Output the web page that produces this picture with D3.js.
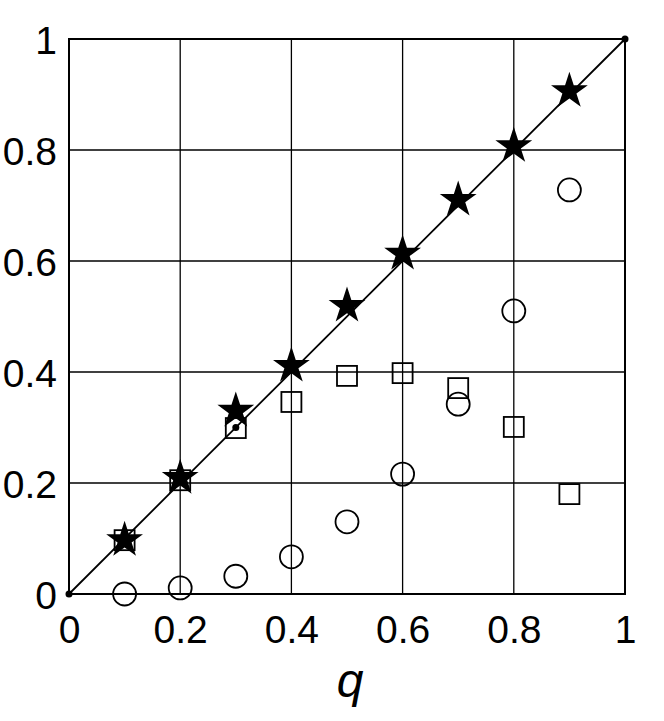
<!DOCTYPE html>
<html>
<head>
<meta charset="utf-8">
<script src="https://cdn.jsdelivr.net/npm/d3@7"></script>
<style>
body { margin: 0; background: #fff; }
svg text { font-family: "Liberation Sans", Arial, sans-serif; fill: #000; }
</style>
</head>
<body>
<svg id="chart" width="664" height="721"></svg>
<script>
// data
var qs = [0.1, 0.2, 0.3, 0.4, 0.5, 0.6, 0.7, 0.8, 0.9];
var stars = [0.097, 0.209, 0.33, 0.411, 0.519, 0.613, 0.71, 0.807, 0.906];
var squares = [0.097, 0.205, 0.299, 0.346, 0.393, 0.398, 0.371, 0.301, 0.18];
var circles = [0.0, 0.011, 0.032, 0.067, 0.13, 0.216, 0.342, 0.51, 0.728];
var diagDots = [0, 0.3, 1];
var ticks = [0, 0.2, 0.4, 0.6, 0.8, 1];

var svg = d3.select("svg#chart");
var mLeft = 69, mRight = 625, mTop = 39, mBottom = 594;

var x = d3.scaleLinear().domain([0, 1]).range([mLeft, mRight]);
var y = d3.scaleLinear().domain([0, 1]).range([mBottom, mTop]);

var fmt = function (d) { return d === 0 || d === 1 ? String(d) : d.toFixed(1); };

// grid
var grid = svg.append("g");
grid.selectAll("line.gx").data(ticks.slice(1, -1)).enter().append("line")
    .attr("x1", d => x(d)).attr("x2", d => x(d))
    .attr("y1", mTop).attr("y2", mBottom)
    .style("stroke", "#000").style("stroke-width", 1.3);
grid.selectAll("line.gy").data(ticks.slice(1, -1)).enter().append("line")
    .attr("y1", d => y(d)).attr("y2", d => y(d))
    .attr("x1", mLeft).attr("x2", mRight)
    .style("stroke", "#000").style("stroke-width", 1.3);

// frame
svg.append("rect")
    .attr("x", mLeft).attr("y", mTop)
    .attr("width", mRight - mLeft).attr("height", mBottom - mTop)
    .style("fill", "none").style("stroke", "#000").style("stroke-width", 2);

// axes labels
var xAxis = d3.axisBottom(x).tickValues(ticks).tickFormat(fmt).tickSize(0).tickPadding(21);
var gx = svg.append("g").attr("transform", "translate(0," + mBottom + ")").call(xAxis);
gx.select(".domain").remove();
gx.selectAll("text").style("font-size", "39px").attr("dy", "0.71em");

var yAxis = d3.axisLeft(y).tickValues(ticks).tickFormat(fmt).tickSize(0).tickPadding(12);
var gy = svg.append("g").attr("transform", "translate(" + mLeft + ",0)").call(yAxis);
gy.select(".domain").remove();
gy.selectAll("text").style("font-size", "39px").attr("dy", "0.36em");

svg.append("text")
    .attr("x", 350).attr("y", 697)
    .attr("text-anchor", "middle")
    .style("font-size", "48px").style("font-style", "italic")
    .text("q");

// diagonal
svg.append("line")
    .attr("x1", x(0)).attr("y1", y(0)).attr("x2", x(1)).attr("y2", y(1))
    .style("stroke", "#000").style("stroke-width", 1.8);
svg.selectAll("circle.dd").data(diagDots).enter().append("circle")
    .attr("cx", d => x(d)).attr("cy", d => y(d)).attr("r", 3.5)
    .style("fill", "#000");

// circles
svg.selectAll("circle.c").data(qs).enter().append("circle")
    .attr("cx", d => x(d)).attr("cy", (d, i) => y(circles[i])).attr("r", 11.5)
    .style("fill", "none").style("stroke", "#000").style("stroke-width", 1.8);

// squares
var s = 20;
svg.selectAll("rect.s").data(qs).enter().append("rect")
    .attr("x", d => x(d) - s / 2).attr("y", (d, i) => y(squares[i]) - s / 2)
    .attr("width", s).attr("height", s)
    .style("fill", "none").style("stroke", "#000").style("stroke-width", 1.8);

// stars
var star = d3.symbol().type(d3.symbolStar).size(420);
svg.selectAll("path.st").data(qs).enter().append("path")
    .attr("d", star)
    .attr("transform", (d, i) => "translate(" + x(d) + "," + y(stars[i]) + ")")
    .style("fill", "#000");
</script>
</body>
</html>
